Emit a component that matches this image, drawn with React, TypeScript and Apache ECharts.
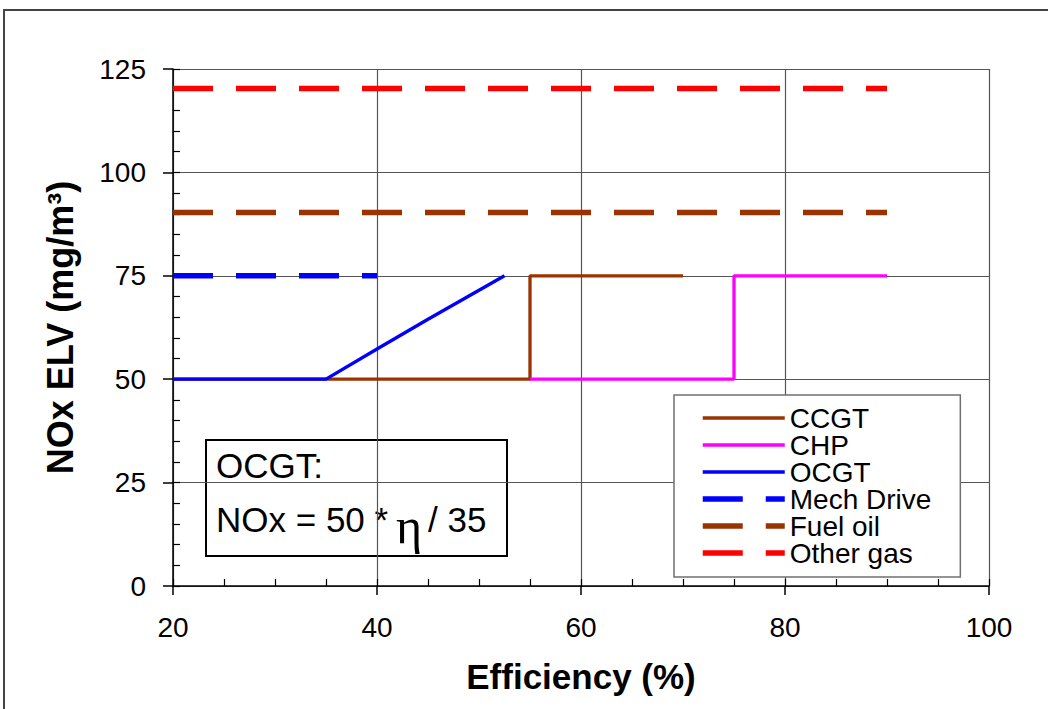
import React, { useEffect, useRef } from "react";
import * as echarts from "echarts";

const xTicks = [20, 40, 60, 80, 100];
const yTicks = [0, 25, 50, 75, 100, 125];

const seriesNames = ["CCGT", "CHP", "OCGT", "Mech Drive", "Fuel oil", "Other gas"];

const ccgtX = [20, 55, 55, 70];
const ccgtY = [50, 50, 75, 75];
const chpX = [55, 75, 75, 90];
const chpY = [50, 50, 75, 75];
const ocgtX = [20, 35, 40, 45, 50, 52.5];
const ocgtY = [50, 50, 57.3, 64.5, 71.5, 75];
const mechX = [20, 40];
const mechY = [75, 75];
const fuelX = [20, 90];
const fuelY = [90.3, 90.3];
const otherX = [20, 90];
const otherY = [120.3, 120.3];

const FONT = "Liberation Sans, Arial, sans-serif";

function pairs(xs: number[], ys: number[]) {
  return xs.map((x, i) => [x, ys[i]]);
}

export default function App() {
  const ref = useRef<HTMLDivElement>(null);
  useEffect(() => {
    if (!ref.current) return;
    const chart = echarts.init(ref.current, null, { renderer: "svg" });
    const SOLID_W = 3.3;
    const DASH_W = 5.5;
    const DASH: number[] = [40, 23];
    const solid = (name: string, color: string, data: number[][]) => ({
      name,
      type: "line",
      data,
      symbol: "none",
      xAxisIndex: 0,
      yAxisIndex: 0,
      lineStyle: { color, width: SOLID_W, type: "solid" },
      itemStyle: { color },
      z: 3,
    });
    const dashed = (name: string, color: string, data: number[][]) => ({
      name,
      type: "line",
      data,
      symbol: "none",
      xAxisIndex: 0,
      yAxisIndex: 0,
      lineStyle: { color, width: DASH_W, type: DASH },
      itemStyle: { color },
      z: 3,
    });
    const legendData = seriesNames.map((n, i) => ({
      name: n,
      lineStyle: i < 3 ? { width: SOLID_W, type: "solid" } : { width: DASH_W, type: DASH },
      itemStyle: { opacity: 0 },
    }));
    const option: any = {
      animation: false,
      backgroundColor: "#ffffff",
      grid: { left: 173, top: 69, width: 816, height: 517, containLabel: false },
      xAxis: [
        {
          type: "value",
          min: xTicks[0],
          max: xTicks[xTicks.length - 1],
          interval: 20,
          name: "Efficiency (%)",
          nameLocation: "middle",
          nameGap: 73,
          nameTextStyle: { fontFamily: FONT, fontSize: 35, fontWeight: "bold", color: "#000" },
          axisLine: { show: true, onZero: false, lineStyle: { color: "#000", width: 1.5 } },
          axisTick: { show: true, inside: false, length: 9, lineStyle: { color: "#000", width: 1.5 } },
          axisLabel: { fontFamily: FONT, fontSize: 28, color: "#000", margin: 27 },
          splitLine: { show: true, lineStyle: { color: "#555", width: 1.2 } },
        },
        {
          type: "value",
          min: 20,
          max: 100,
          interval: 5,
          gridIndex: 0,
          position: "bottom",
          axisLine: { show: false },
          axisTick: { show: true, inside: true, length: 7, lineStyle: { color: "#000", width: 1.2 } },
          axisLabel: { show: false },
          splitLine: { show: false },
        },
      ],
      yAxis: [
        {
          type: "value",
          min: yTicks[0],
          max: yTicks[yTicks.length - 1],
          interval: 25,
          name: "NOx ELV (mg/m³)",
          nameLocation: "middle",
          nameRotate: 90,
          nameGap: 95,
          nameTextStyle: { fontFamily: FONT, fontSize: 36, fontWeight: "bold", color: "#000" },
          axisLine: { show: true, onZero: false, lineStyle: { color: "#000", width: 1.5 } },
          axisTick: { show: true, inside: false, length: 10, lineStyle: { color: "#000", width: 1.5 } },
          axisLabel: { fontFamily: FONT, fontSize: 28, color: "#000", margin: 27 },
          splitLine: { show: true, lineStyle: { color: "#555", width: 1.2 } },
        },
        {
          type: "value",
          min: 0,
          max: 125,
          interval: 5,
          gridIndex: 0,
          position: "left",
          axisLine: { show: false },
          axisTick: { show: true, inside: true, length: 7, lineStyle: { color: "#000", width: 1.2 } },
          axisLabel: { show: false },
          splitLine: { show: false },
        },
      ],
      legend: {
        show: true,
        orient: "vertical",
        left: 674,
        top: 395,
        data: legendData,
        itemWidth: 82,
        itemHeight: 14,
        itemGap: -1,
        padding: [9, 29, 10, 26],
        backgroundColor: "#ffffff",
        borderColor: "#707070",
        borderWidth: 1.5,
        borderRadius: 0,
        itemStyle: { opacity: 0 },
        textStyle: { fontFamily: FONT, fontSize: 28, lineHeight: 27, color: "#000" },
        z: 10,
      },
      series: [
        solid(seriesNames[0], "#993300", pairs(ccgtX, ccgtY)),
        solid(seriesNames[1], "#FF00FF", pairs(chpX, chpY)),
        solid(seriesNames[2], "#0000FF", pairs(ocgtX, ocgtY)),
        dashed(seriesNames[3], "#0000FF", pairs(mechX, mechY)),
        dashed(seriesNames[4], "#993300", pairs(fuelX, fuelY)),
        dashed(seriesNames[5], "#FF0000", pairs(otherX, otherY)),
      ],
      graphic: [
        {
          type: "rect",
          shape: { x: 4, y: 10, width: 1200, height: 900 },
          style: { fill: "none", stroke: "#444", lineWidth: 2 },
          z: 0,
          silent: true,
        },
        {
          type: "group",
          z: 20,
          children: [
            {
              type: "rect",
              shape: { x: 206, y: 440, width: 301, height: 116 },
              style: { fill: "#fff", stroke: "#000", lineWidth: 2 },
            },
            {
              type: "text",
              x: 216,
              y: 465,
              style: { text: "OCGT:", fontFamily: FONT, fontSize: 35, fill: "#000", verticalAlign: "middle", align: "left" },
            },
            {
              type: "text",
              x: 216,
              y: 519,
              style: { text: "NOx = 50 *", fontFamily: FONT, fontSize: 35, fill: "#000", verticalAlign: "middle", align: "left" },
            },
            {
              type: "text",
              x: 396,
              y: 526,
              style: { text: "η", fontFamily: "Liberation Serif, DejaVu Serif, serif", fontSize: 50, fill: "#000", verticalAlign: "middle", align: "left" },
            },
            {
              type: "text",
              x: 428,
              y: 519,
              style: { text: "/ 35", fontFamily: FONT, fontSize: 35, fill: "#000", verticalAlign: "middle", align: "left" },
            },
          ],
        },
      ],
    };
    chart.setOption(option);
    return () => chart.dispose();
  }, []);
  return (
    <div
      ref={ref}
      style={{ position: "fixed", left: 0, top: 0, width: 1048, height: 709, background: "#fff" }}
    />
  );
}
